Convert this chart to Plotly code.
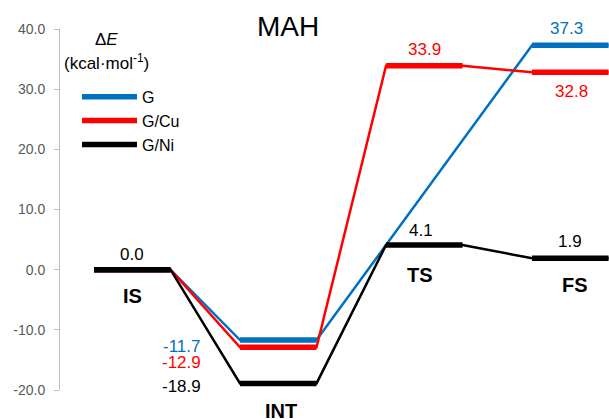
import plotly.graph_objects as go

# Reaction stages and relative energies (kcal/mol); None = no such state
stages = ["IS", "INT", "TS", "FS"]
series_names = ["G", "G/Cu", "G/Ni"]
energy_g = [0.0, -11.7, None, 37.3]
energy_cu = [0.0, -12.9, 33.9, 32.8]
energy_ni = [0.0, -18.9, 4.1, 1.9]
tick_values = [-20, -10, 0, 10, 20, 30, 40]
tick_labels = ["-20.0", "-10.0", "0.0", "10.0", "20.0", "30.0", "40.0"]

colors = {"G": "#0070C0", "G/Cu": "#FF0000", "G/Ni": "#000000"}
SEG = 0.524  # length of each energy level bar, in stage units
FONT = "Liberation Sans, Arial, sans-serif"

energies = {"G": energy_g, "G/Cu": energy_cu, "G/Ni": energy_ni}

# value-label placement per series/stage: (anchor, xshift px, yshift px)
label_style = {
    "G": {1: ("left", -38, -6.6), 3: ("center", -4, 16.5)},
    "G/Cu": {1: ("left", -38, -15.3), 2: ("center", 0, 16), 3: ("center", 1, -19.5)},
    "G/Ni": {0: ("center", 0, 15), 1: ("left", -38, -3), 2: ("center", -3, 15), 3: ("center", 0, 16.5)},
}
# stage-name placement below the G/Ni level: (xshift px, yshift px)
stage_style = [(0, -26), (3, -28), (-4, -30), (5, -26.4)]

fig = go.Figure()
annotations = []

for name in series_names:
    vals = energies[name]
    col = colors[name]
    px, py = [], []   # connecting path through every level
    sx, sy = [], []   # thick level bars
    for i, v in enumerate(vals):
        if v is None:
            continue
        px += [i, i + SEG]
        py += [v, v]
        sx += [i, i + SEG, None]
        sy += [v, v, None]
    fig.add_trace(go.Scatter(x=px, y=py, mode="lines", line=dict(color=col, width=2.5),
                             showlegend=False, hoverinfo="skip"))
    fig.add_trace(go.Scatter(x=sx, y=sy, mode="lines", line=dict(color=col, width=5.5),
                             name=name, showlegend=True))
    for i, (anchor, dx, dy) in label_style[name].items():
        v = vals[i]
        if anchor == "left":
            ax, xa = i, "right"
        else:
            ax, xa = i + SEG / 2, "center"
        annotations.append(dict(x=ax, y=v, xref="x", yref="y", text=f"{v:.1f}",
                                showarrow=False, xanchor=xa, yanchor="middle",
                                xshift=dx, yshift=dy, height=15, borderpad=0,
                                font=dict(family=FONT, size=17, color=col)))

for i, st in enumerate(stages):
    dx, dy = stage_style[i]
    annotations.append(dict(x=i + SEG / 2, y=energy_ni[i], xref="x", yref="y",
                            text=f"<b>{st}</b>", showarrow=False,
                            xanchor="center", yanchor="middle", xshift=dx, yshift=dy,
                            font=dict(family=FONT, size=20, color="#000000")))

# energy axis caption
annotations.append(dict(x=0.0856, y=0.972, xref="paper", yref="paper",
                        text="Δ<i>E</i>", showarrow=False, xanchor="center", yanchor="middle",
                        font=dict(family=FONT, size=17, color="#000000")))
annotations.append(dict(x=0.0856, y=0.9086, xref="paper", yref="paper",
                        text="(kcal·mol<sup>-1</sup>)", showarrow=False,
                        xanchor="center", yanchor="middle",
                        font=dict(family=FONT, size=17, color="#000000")))

fig.update_layout(
    width=609, height=419,
    margin=dict(l=60, r=0, t=29, b=29),
    paper_bgcolor="white", plot_bgcolor="white",
    title=dict(text="MAH", x=0.4155 * 549 / 609 + 60 / 609, xanchor="center",
               y=1 - 26 / 419, yanchor="middle",
               font=dict(family=FONT, size=28, color="#000000")),
    xaxis=dict(range=[-0.2329, 3.527], visible=False),
    yaxis=dict(range=[-20, 40], tickvals=tick_values, ticktext=tick_labels,
               showgrid=False, zeroline=False, showline=True, linecolor="#BFBFBF",
               linewidth=1, ticks="outside", ticklen=5, tickcolor="#BFBFBF",
               ticklabelstandoff=6,
               tickfont=dict(family=FONT, size=14, color="#595959")),
    legend=dict(x=0.031, y=0.859, xanchor="left", yanchor="top",
                bgcolor="rgba(0,0,0,0)", itemwidth=55,
                font=dict(family=FONT, size=16, color="#000000")),
    annotations=annotations,
)

fig.write_html("out.html")
